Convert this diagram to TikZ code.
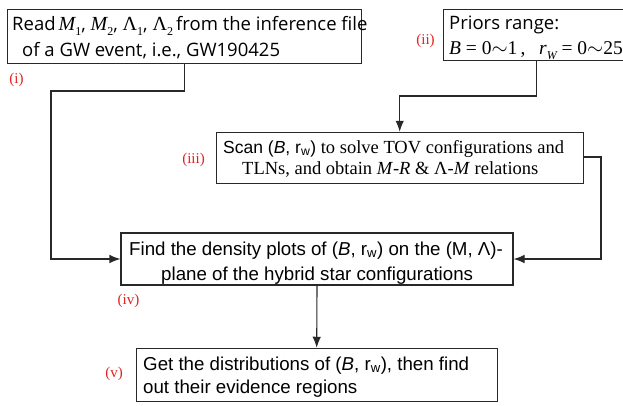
\documentclass[tikz,border=0pt]{standalone}
\usepackage{fontspec}
\setmainfont{Liberation Serif}
\newfontfamily\arialf{Liberation Sans}
\newfontfamily\uisans{Open Sans}
\newfontfamily\tms{Liberation Serif}
\usetikzlibrary{arrows.meta}
\definecolor{tagred}{RGB}{228,32,32}
\definecolor{edge}{RGB}{40,40,40}
% italic serif symbol with a lowered index
\newcommand\symsub[2]{{\tms #1}\raisebox{-0.28em}{\tms\fontsize{12}{12}\selectfont #2}}
\tikzset{
  stepbox/.style={draw=edge, line width=1.1pt, fill=none, inner sep=0pt},
  txt/.style={inner sep=0pt, anchor=base west},
  tag/.style={inner sep=0pt, text=tagred, font=\fontsize{15}{17}\selectfont},
  conn/.style={draw=edge, line width=1.1pt},
  arr/.style={conn, -{Latex[length=11pt,width=8.5pt]}},
}
\begin{document}
\begin{tikzpicture}[x=1pt,y=-1pt]
\useasboundingbox (0,0) rectangle (623,405);

% process boxes
\node[stepbox, minimum width=354.4pt, minimum height=54pt] (read)  at (184.5,36.3) {};
\node[stepbox, minimum width=186pt,   minimum height=50.7pt] (prior) at (536.3,34.7) {};
\node[stepbox, minimum width=367.3pt, minimum height=51pt] (scan)  at (399.7,157.8) {};
\node[stepbox, minimum width=392pt,   minimum height=52pt] (find)  at (317,259) {};
\node[stepbox, minimum width=361.3pt, minimum height=53.4pt] (get) at (316.7,375) {};

% box texts
\begin{scope}[font=\uisans\fontsize{18.5}{22}\selectfont]
\node[txt] (read1) at (12,30) {Read\,\symsub{\itshape\fontsize{20}{22}\selectfont M}{1}, \symsub{\itshape\fontsize{20}{22}\selectfont M}{2}, \symsub{\fontsize{20}{22}\selectfont Λ}{1}, \symsub{\fontsize{20}{22}\selectfont Λ}{2}\,from the inference file};
\node[txt] (read2) at (22,56.7) {of a GW event, i.e., GW190425};
\node[txt] (prior1) at (449,29) {Priors range:};
\node[txt] (prior2) at (449,54) {\tms\fontsize{19.5}{22}\selectfont\textit{B} = 0$\sim$1\,,\;\, \symsub{\itshape r}{\itshape W} = 0$\sim$25};
\end{scope}

\node[txt] (scan1) at (223,153.3) {\fontsize{18.5}{21}\selectfont{\arialf\fontsize{17.5}{21}\selectfont Scan (\textit{B}, r\textsubscript{w})} to solve TOV configurations and};
\node[txt] (scan2) at (242,174) {\fontsize{18.5}{21}\selectfont TLNs, and obtain \textit{M}-\textit{R} \& Λ-\textit{M} relations};

\begin{scope}[font=\arialf\fontsize{18.7}{22}\selectfont]
\node[txt] (find1) at (129,255) {Find the density plots of (\textit{B}, r\textsubscript{w}) on the (M, Λ)-};
\node[txt] (find2) at (161,280) {plane of the hybrid star configurations};
\node[txt] (get1) at (143,370) {Get the distributions of (\textit{B}, r\textsubscript{w}), then find};
\node[txt] (get2) at (143,393) {out their evidence regions};
\end{scope}

% step tags
\node[tag] (t1) at (16.5,80) {(i)};
\node[tag] (t2) at (425.5,41) {(ii)};
\node[tag] (t3) at (193.5,160) {(iii)};
\node[tag] (t4) at (128.5,301) {(iv)};
\node[tag] (t5) at (114,374) {(v)};

% connectors
\coordinate (j1) at (184.5,91);
\coordinate (j2) at (51,91);
\draw[arr] (read.south) -- (j1) -- (j2) |- (find.west);
\coordinate (k1) at (536.3,96);
\draw[arr] (prior.south) -- (k1) -| (scan.north);
\coordinate (m1) at (601,157);
\draw[arr] (scan.east |- m1) -- (m1) |- (find.east);
\draw[arr] (find.south) -- (get.north);
\end{tikzpicture}
\end{document}
